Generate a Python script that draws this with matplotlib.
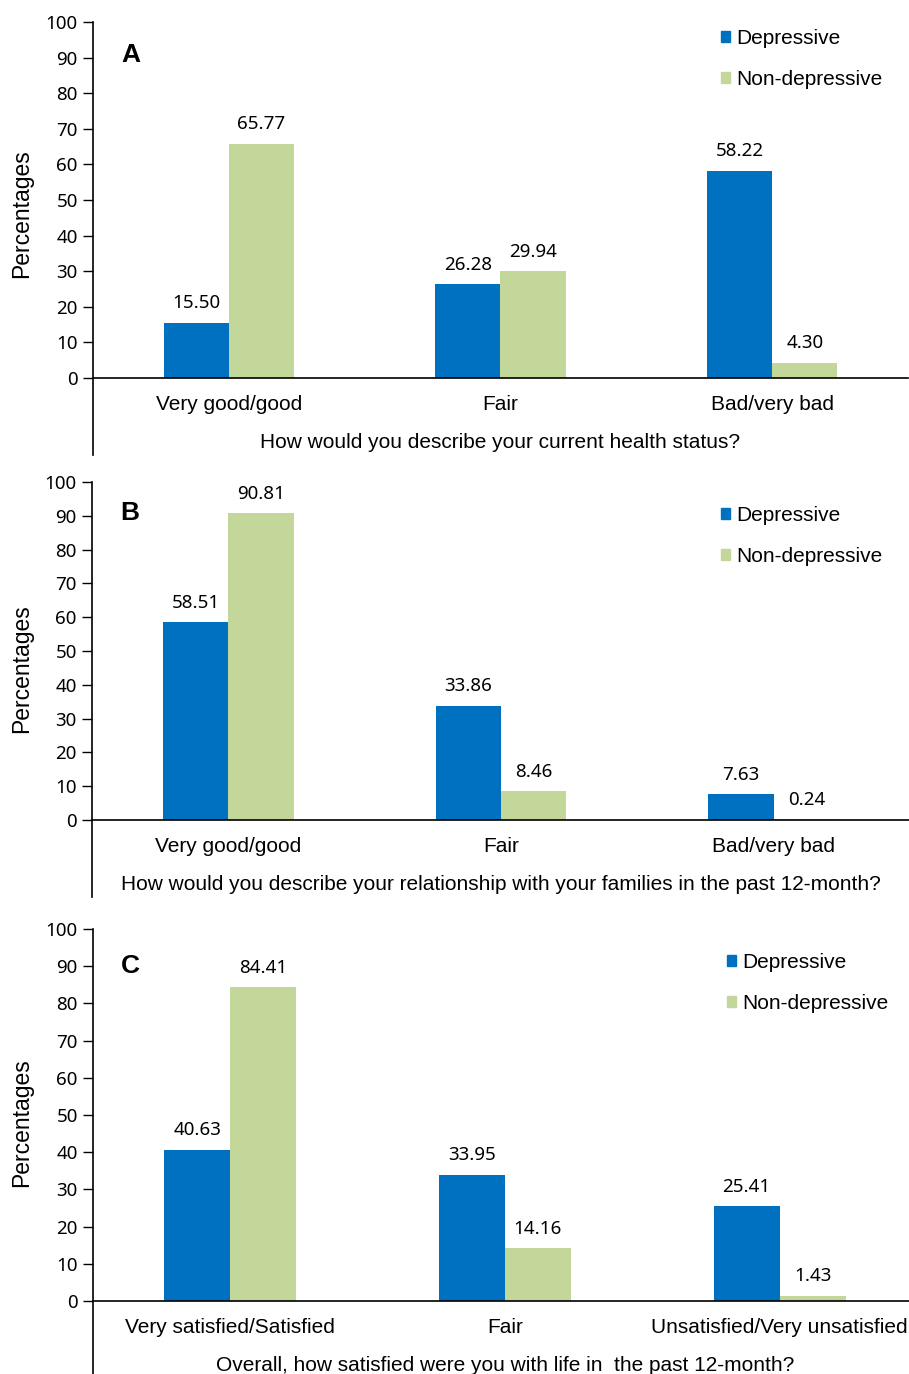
import matplotlib.pyplot as plt
import numpy as np
from matplotlib.patches import Patch

# data
series_names = ['Depressive', 'Non-depressive']
colors = ['#0070C0', '#C4D79B']

cats_a = ['Very good/good', 'Fair', 'Bad/very bad']
dep_a = [15.50, 26.28, 58.22]
non_a = [65.77, 29.94, 4.30]
xlabel_a = 'How would you describe your current health status?'

cats_b = ['Very good/good', 'Fair', 'Bad/very bad']
dep_b = [58.51, 33.86, 7.63]
non_b = [90.81, 8.46, 0.24]
xlabel_b = 'How would you describe your relationship with your families in the past 12-month?'

cats_c = ['Very satisfied/Satisfied', 'Fair', 'Unsatisfied/Very unsatisfied']
dep_c = [40.63, 33.95, 25.41]
non_c = [84.41, 14.16, 1.43]
xlabel_c = 'Overall, how satisfied were you with life in  the past 12-month?'

yticks = list(range(0, 101, 10))

W, H = 909, 1374
fig = plt.figure(figsize=(W / 100, H / 100), dpi=100)

arial = 'Liberation Sans'
numfont = 'Noto Sans'

# pixel boxes: left, right, top(y=100), zero line, bottom of spine
panels = [
    dict(letter='A', cats=cats_a, dep=dep_a, non=non_a, xlabel=xlabel_a,
         box=(93, 908, 22, 378, 455), letter_xy=(131, 55), ylab_y=214, leg=(721, 29)),
    dict(letter='B', cats=cats_b, dep=dep_b, non=non_b, xlabel=xlabel_b,
         box=(92, 910, 482, 820, 897), letter_xy=(130, 513), ylab_y=669, leg=(721, 506)),
    dict(letter='C', cats=cats_c, dep=dep_c, non=non_c, xlabel=xlabel_c,
         box=(93, 917, 929, 1301, 1380), letter_xy=(130, 966), ylab_y=1123, leg=(727, 953)),
]

width = 0.24
for p in panels:
    left, right, top, zero, bottom = p['box']
    ppu = (zero - top) / 100.0
    ymin = -(bottom - zero) / ppu
    ax = fig.add_axes([left / W, 1 - bottom / H, (right - left) / W, (bottom - top) / H])
    x = np.arange(len(p['cats']))
    b1 = ax.bar(x - width / 2, p['dep'], width, color=colors[0])
    b2 = ax.bar(x + width / 2, p['non'], width, color=colors[1])
    for bars, vals in ((b1, p['dep']), (b2, p['non'])):
        for r, v in zip(bars, vals):
            ax.annotate(f'{v:.2f}', (r.get_x() + r.get_width() / 2, v),
                        xytext=(0, 7.5), textcoords='offset points',
                        ha='center', va='bottom', fontsize=13.5, family=numfont)
    ax.set_xlim(-0.5, 2.5)
    ax.set_ylim(ymin, 100)
    ax.set_yticks(yticks)
    ax.set_yticklabels([str(t) for t in yticks], fontsize=13.5, family=numfont)
    ax.tick_params(axis='y', direction='out', length=7, width=1, pad=4)
    ax.spines['top'].set_visible(False)
    ax.spines['right'].set_visible(False)
    ax.spines['left'].set_linewidth(1.2)
    ax.spines['bottom'].set_position(('data', 0))
    ax.spines['bottom'].set_linewidth(1.2)
    ax.set_xticks(x)
    ax.set_xticklabels(p['cats'], fontsize=15, family=arial)
    ax.tick_params(axis='x', length=0, pad=12)
    ax.set_xlabel(p['xlabel'], fontsize=15, family=arial, labelpad=14)

    handles = [Patch(color=c) for c in colors]
    lx, ly = p['leg']
    ax.legend(handles, series_names, loc='upper left',
              bbox_to_anchor=(lx / W, 1 - ly / H), bbox_transform=fig.transFigure,
              frameon=False, prop={'family': arial, 'size': 15},
              handlelength=0.45, handleheight=0.45, handletextpad=0.3,
              labelspacing=1.05, borderpad=0, borderaxespad=0)

    lxp, lyp = p['letter_xy']
    fig.text(lxp / W, 1 - lyp / H, p['letter'], ha='center', va='center',
             fontsize=19, fontweight='bold', family=arial)
    fig.text(22 / W, 1 - p['ylab_y'] / H, 'Percentages', rotation=90,
             ha='center', va='center', fontsize=16.5, family=arial)

fig.savefig('out.png', dpi=100)
